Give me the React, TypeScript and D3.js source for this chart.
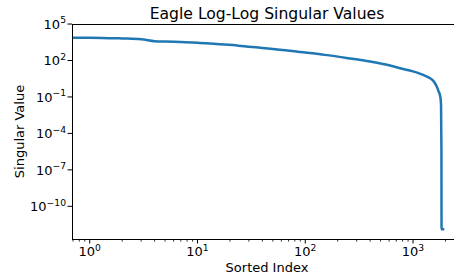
import React from 'react';
import * as d3 from 'd3';

// singular values (index, value)
const sortedIndex = [0, 1, 2, 3, 4, 5, 7, 10, 15, 24, 40, 61, 100, 152, 250, 400, 600, 760, 1000, 1170, 1300, 1440, 1550, 1660, 1720, 1790, 1820, 1835, 1840, 1900, 1950];
const singularValues = [15800, 7600, 6500, 5600, 3900, 3600, 3300, 2950, 2250, 1660, 1050, 740, 450, 290, 155, 81, 40, 23, 12.6, 8, 5.5, 3.5, 2.0, 0.72, 0.32, 0.11, 0.023, 5e-6, 1.3e-12, 1.3e-12, 1.3e-12];

// tick exponents
const xTickExps = [0, 1, 2, 3];
const yTickExps = [5, 2, -1, -4, -7, -10];

const title = 'Eagle Log-Log Singular Values';
const xLabel = 'Sorted Index';
const yLabel = 'Singular Value';

const W = 454;
const H = 277;
const margin = { top: 24, right: -8, bottom: 38, left: 72 };
const font = 'DejaVu Sans, sans-serif';

// matplotlib style: 5% margins in log space
function padLog(lo: number, hi: number): [number, number] {
  const a = Math.log10(lo), b = Math.log10(hi);
  const p = (b - a) * 0.05;
  return [Math.pow(10, a - p), Math.pow(10, b + p)];
}

const Pow10 = ({ e, x, y, anchor }: { e: number; x: number; y: number; anchor: string }) => (
  <text x={x} y={y} textAnchor={anchor} fontFamily={font} fontSize={13} fill="#000">
    10
    <tspan fontSize={9.2} dy={-5.5}>{e < 0 ? '\u2212' + Math.abs(e) : String(e)}</tspan>
  </text>
);

export default function App() {
  const x0 = margin.left;
  const x1 = W - margin.right;
  const y0 = margin.top;
  const y1 = H - margin.bottom;

  const posIdx = sortedIndex.filter(d => d > 0);
  const x = d3.scaleLog().domain(padLog(d3.min(posIdx)!, d3.max(posIdx)!)).range([x0, x1]);
  const y = d3.scaleLog().domain(padLog(d3.min(singularValues)!, d3.max(singularValues)!)).range([y1, y0]);

  const pts = sortedIndex.map((d, i) => [d, singularValues[i]] as [number, number]);
  // index 0 can't sit on a log axis; clip it far to the left like matplotlib
  const line = d3.line<[number, number]>()
    .x(d => x(Math.max(d[0], 1e-300)))
    .y(d => y(d[1]))
    .curve(d3.curveMonotoneX);

  const [xd0, xd1] = x.domain();
  const minor: number[] = [];
  for (let k = -1; k <= 3; k++) {
    for (let m = 2; m <= 9; m++) {
      const v = m * Math.pow(10, k);
      if (v >= xd0 && v <= xd1) minor.push(v);
    }
  }

  return (
    <svg width={W} height={H} style={{ position: 'absolute', left: 0, top: 0, background: '#fff' }}>
      <defs>
        <clipPath id="plot">
          <rect x={x0} y={y0} width={x1 - x0} height={y1 - y0} />
        </clipPath>
      </defs>

      <text x={(x0 + x1) / 2} y={19} textAnchor="middle" fontFamily={font} fontSize={15.6} fill="#000">{title}</text>

      <path d={line(pts) || ''} fill="none" stroke="#1f77b4" strokeWidth={2.5} clipPath="url(#plot)" strokeLinejoin="round" />

      {/* spines */}
      <g stroke="#000" strokeWidth={1} shapeRendering="crispEdges">
        <line x1={x0} x2={x0} y1={y0} y2={y1} />
        <line x1={x0} x2={x1} y1={y1} y2={y1} />
        <line x1={x0} x2={x1} y1={y0} y2={y0} />
        <line x1={x1} x2={x1} y1={y0} y2={y1} />
      </g>

      {/* x ticks */}
      {xTickExps.map(e => {
        const px = x(Math.pow(10, e));
        return (
          <g key={'x' + e}>
            <line x1={px} x2={px} y1={y1} y2={y1 + 4.5} stroke="#000" strokeWidth={1} />
            <Pow10 e={e} x={px} y={256} anchor="middle" />
          </g>
        );
      })}
      {minor.map(v => (
        <line key={'m' + v} x1={x(v)} x2={x(v)} y1={y1} y2={y1 + 2.6} stroke="#000" strokeWidth={0.8} />
      ))}

      {/* y ticks */}
      {yTickExps.map(e => {
        const py = y(Math.pow(10, e));
        return (
          <g key={'y' + e}>
            <line x1={x0 - 4.5} x2={x0} y1={py} y2={py} stroke="#000" strokeWidth={1} />
            <Pow10 e={e} x={66} y={py + 4.8} anchor="end" />
          </g>
        );
      })}

      <text x={(x0 + x1) / 2} y={271.5} textAnchor="middle" fontFamily={font} fontSize={13} fill="#000">{xLabel}</text>
      <text transform={`translate(24,${(y0 + y1) / 2}) rotate(-90)`} textAnchor="middle" fontFamily={font} fontSize={13} fill="#000">{yLabel}</text>
    </svg>
  );
}
